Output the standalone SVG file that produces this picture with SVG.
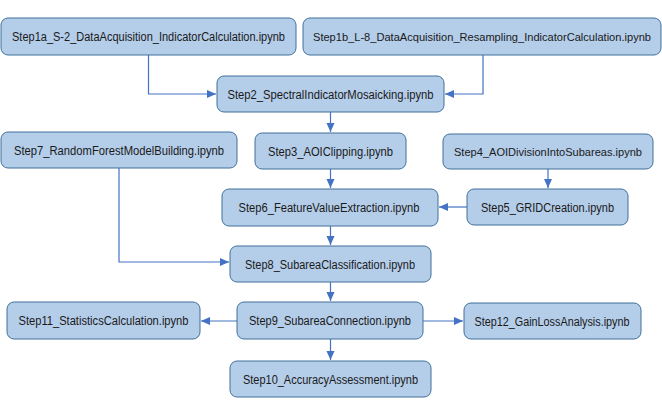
<svg xmlns="http://www.w3.org/2000/svg" width="662" height="416" viewBox="0 0 662 416">
<style>
.n rect{fill:#b4cde9;stroke:#41719c;stroke-width:1}
.n text{font-family:"Liberation Sans",Arial,sans-serif;font-size:12.5px;fill:#1a1a1a;text-anchor:middle}
.n text.s{font-size:11px}
.c path{fill:none;stroke:#4472c4;stroke-width:1.2;marker-end:url(#ah)}
</style>
<defs>
<marker id="ah" markerUnits="userSpaceOnUse" markerWidth="10" markerHeight="10" viewBox="0 0 10 10" refX="9" refY="5" orient="auto">
<path d="M0,1 L9,5 L0,9 Z" fill="#4472c4"/>
</marker>
</defs>
<rect width="662" height="416" fill="#ffffff"/>
<g class="c" id="connectors">
<path d="M148.5,55 V94 H216"/>
<path d="M483,55 V94 H445"/>
<path d="M330.5,112 V132"/>
<path d="M330.5,169 V188"/>
<path d="M548,169 V188"/>
<path d="M467,207 H439"/>
<path d="M330.5,226 V245"/>
<path d="M119,168 V262 H229"/>
<path d="M330.5,282 V301"/>
<path d="M237,321 H201"/>
<path d="M423,321 H463"/>
<path d="M330.5,339 V360"/>
</g>
<g class="n" id="step1a"><rect x="1" y="18" width="295" height="37" rx="7"/><text x="148.5" y="41" textLength="273" lengthAdjust="spacingAndGlyphs">Step1a_S-2_DataAcquisition_IndicatorCalculation.ipynb</text></g>
<g class="n" id="step1b"><rect x="303" y="18" width="358" height="37" rx="7"/><text class="s" x="482" y="40.5" textLength="338" lengthAdjust="spacingAndGlyphs">Step1b_L-8_DataAcquisition_Resampling_IndicatorCalculation.ipynb</text></g>
<g class="n" id="step2"><rect x="217" y="76" width="227" height="36" rx="7"/><text x="330.5" y="98.5" textLength="206" lengthAdjust="spacingAndGlyphs">Step2_SpectralIndicatorMosaicking.ipynb</text></g>
<g class="n" id="step7"><rect x="1" y="132" width="236" height="36" rx="7"/><text x="119" y="154.5" textLength="210" lengthAdjust="spacingAndGlyphs">Step7_RandomForestModelBuilding.ipynb</text></g>
<g class="n" id="step3"><rect x="255" y="133" width="151" height="36" rx="7"/><text x="330.5" y="155.5" textLength="125" lengthAdjust="spacingAndGlyphs">Step3_AOIClipping.ipynb</text></g>
<g class="n" id="step4"><rect x="443" y="134" width="210" height="35" rx="7"/><text class="s" x="548" y="155.5" textLength="188" lengthAdjust="spacingAndGlyphs">Step4_AOIDivisionIntoSubareas.ipynb</text></g>
<g class="n" id="step6"><rect x="222" y="189" width="216" height="37" rx="7"/><text x="329" y="212" textLength="181" lengthAdjust="spacingAndGlyphs">Step6_FeatureValueExtraction.ipynb</text></g>
<g class="n" id="step5"><rect x="467" y="189" width="161" height="36" rx="7"/><text x="547.5" y="211.5" textLength="133" lengthAdjust="spacingAndGlyphs">Step5_GRIDCreation.ipynb</text></g>
<g class="n" id="step8"><rect x="230" y="246" width="201" height="36" rx="7"/><text x="330" y="268.5" textLength="170" lengthAdjust="spacingAndGlyphs">Step8_SubareaClassification.ipynb</text></g>
<g class="n" id="step11"><rect x="7" y="302" width="193" height="37" rx="7"/><text x="103.5" y="325" textLength="170" lengthAdjust="spacingAndGlyphs">Step11_StatisticsCalculation.ipynb</text></g>
<g class="n" id="step9"><rect x="237" y="302" width="186" height="37" rx="7"/><text x="330" y="325" textLength="162" lengthAdjust="spacingAndGlyphs">Step9_SubareaConnection.ipynb</text></g>
<g class="n" id="step12"><rect x="464" y="303" width="177" height="36" rx="7"/><text x="552" y="325.5" textLength="155" lengthAdjust="spacingAndGlyphs">Step12_GainLossAnalysis.ipynb</text></g>
<g class="n" id="step10"><rect x="230" y="361" width="201" height="36" rx="7"/><text x="330.5" y="383.5" textLength="175" lengthAdjust="spacingAndGlyphs">Step10_AccuracyAssessment.ipynb</text></g>
</svg>
